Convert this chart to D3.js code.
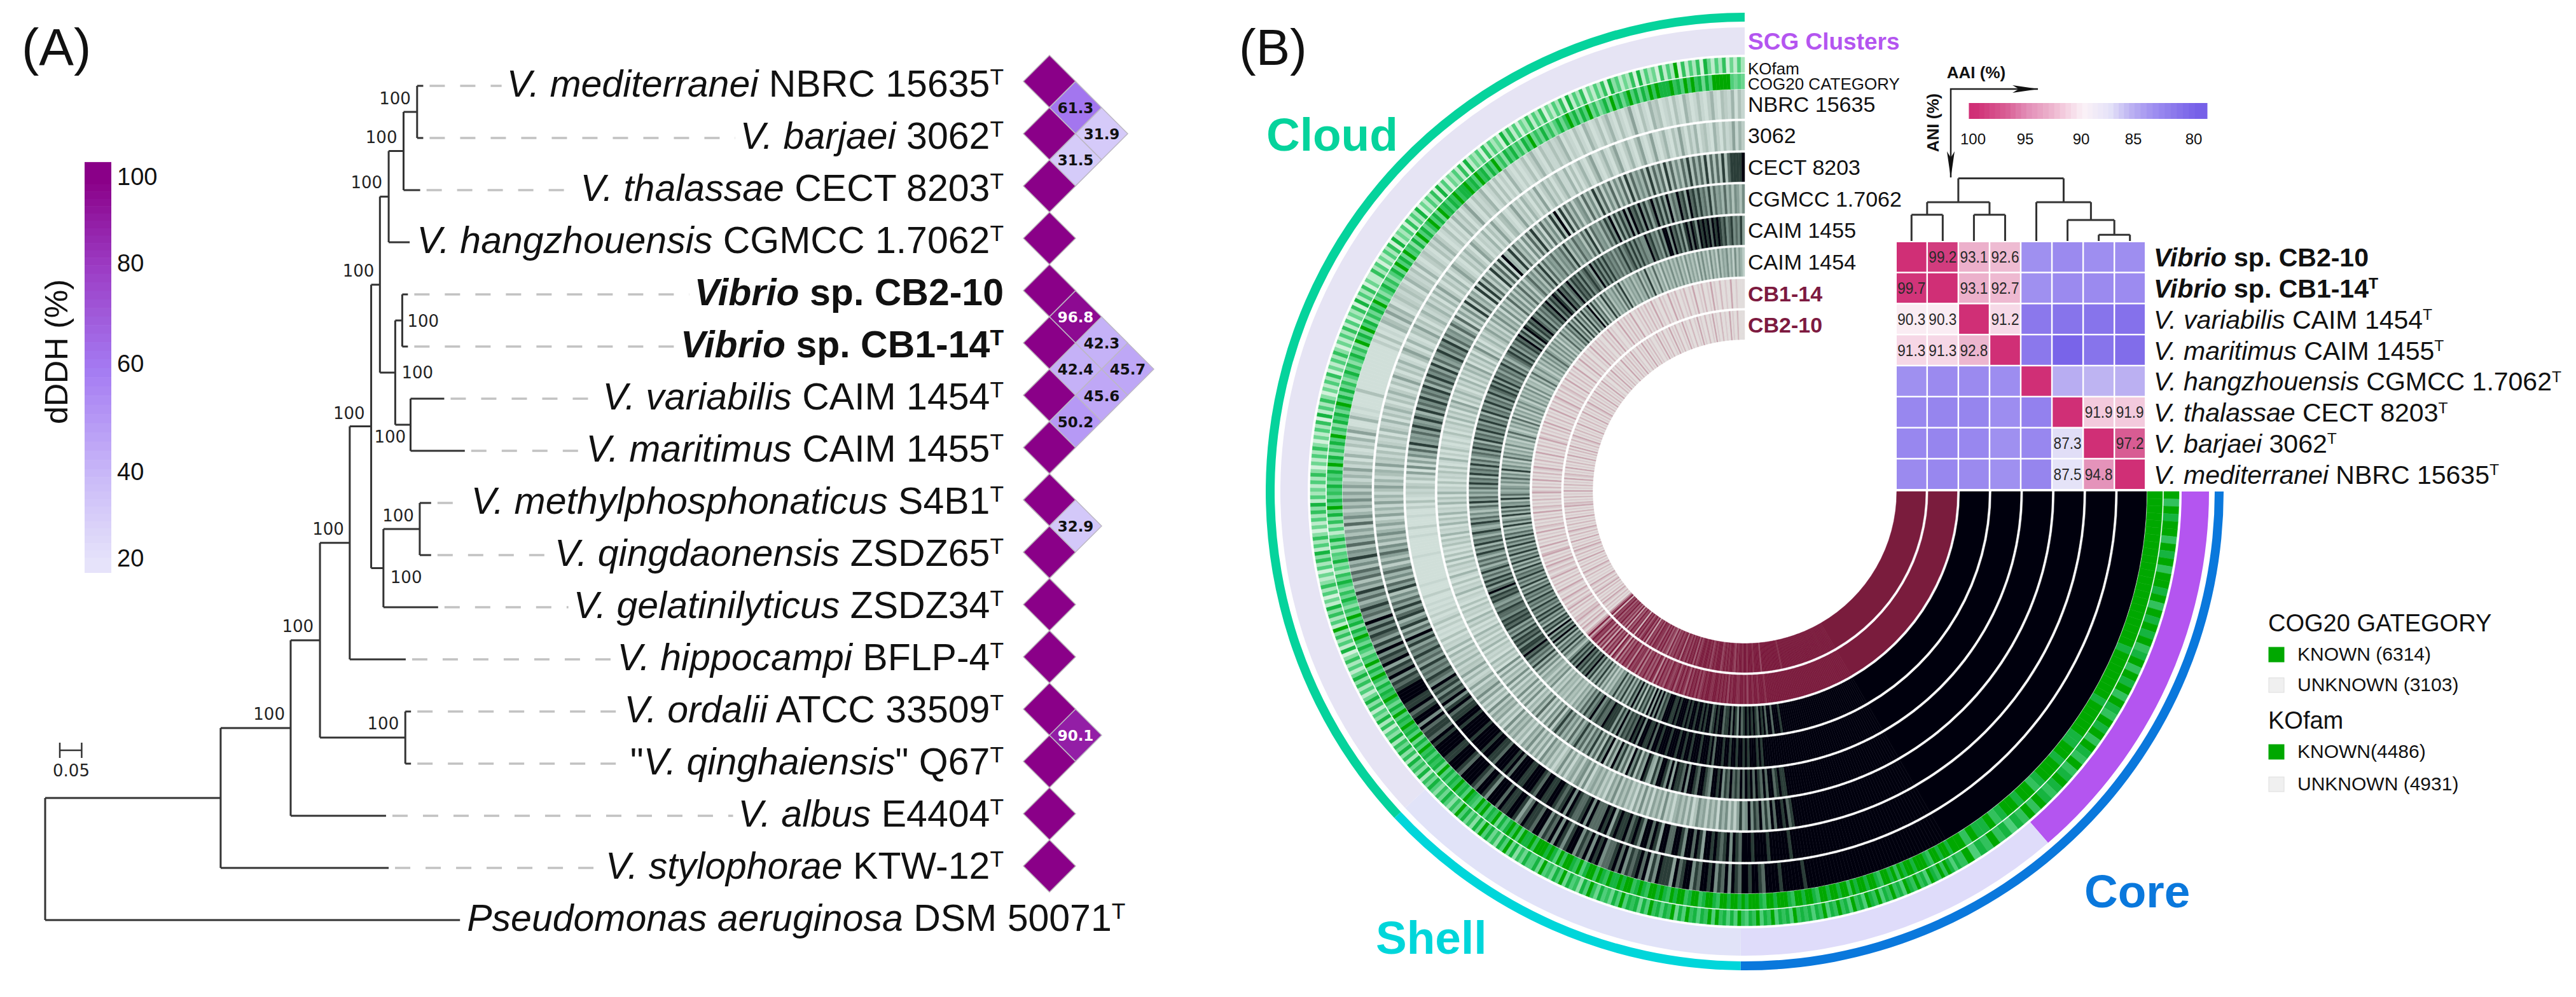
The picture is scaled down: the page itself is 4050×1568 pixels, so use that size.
<!DOCTYPE html>
<html>
<head>
<meta charset="utf-8">
<script src="https://cdn.jsdelivr.net/npm/d3@7"></script>
<style>
  html, body { margin: 0; padding: 0; background: #fff; }
  svg { display: block; }
  text { font-family: "Liberation Sans", Arial, sans-serif; fill: #111; }
  .boot { font-family: "DejaVu Sans", sans-serif; font-size: 26px; fill: #222; }
</style>
</head>
<body>
<svg id="fig" width="4050" height="1568">
  <defs><filter id="soft" x="-5%" y="-5%" width="110%" height="110%"><feGaussianBlur stdDeviation="0.7"/></filter></defs>
</svg>
<script>
// ---------- panel A data ----------
const speciesKeys = ["medi", "barj", "thal", "hang", "cb2", "cb1", "vari", "mari", "meth", "qing", "gela", "hipp", "orda", "qinh", "albu", "styl", "pseu"];
const speciesItalic = ["V. mediterranei", "V. barjaei", "V. thalassae", "V. hangzhouensis", "Vibrio", "Vibrio", "V. variabilis", "V. maritimus", "V. methylphosphonaticus", "V. qingdaonensis", "V. gelatinilyticus", "V. hippocampi", "V. ordalii", "V. qinghaiensis", "V. albus", "V. stylophorae", "Pseudomonas aeruginosa"];
const speciesStrain = ["NBRC 15635", "3062", "CECT 8203", "CGMCC 1.7062", "sp. CB2-10", "sp. CB1-14", "CAIM 1454", "CAIM 1455", "S4B1", "ZSDZ65", "ZSDZ34", "BFLP-4", "ATCC 33509", "Q67", "E4404", "KTW-12", "DSM 50071"];
const boldKeys = ["cb2", "cb1"];
const noTypeMark = ["cb2"];
const quotedKeys = ["qinh"];
const outgroupKey = "pseu";

// id, parent, branch length (substitutions per site)
const branchRows = [
  ["root", "", 0],
  ["n1", "root", .401], ["n2", "n1", .160], ["n3", "n2", .067], ["n4", "n3", .068],
  ["n5", "n4", .049], ["n6", "n5", .020], ["n8", "n6", .020], ["n10", "n8", .034],
  ["n11", "n10", .031], ["medi", "n11", .014], ["barj", "n11", .014], ["thal", "n10", .038],
  ["hang", "n8", .048], ["n9", "n6", .035], ["n12", "n9", .016], ["cb2", "n12", .013],
  ["cb1", "n12", .013], ["n13", "n9", .035], ["vari", "n13", .077], ["mari", "n13", .124],
  ["n7", "n5", .028], ["n14", "n7", .083], ["meth", "n14", .026], ["qing", "n14", .026],
  ["gela", "n7", .125], ["hipp", "n4", .128], ["nOrd", "n3", .195], ["orda", "nOrd", .013],
  ["qinh", "nOrd", .013], ["albu", "n2", .218], ["styl", "n1", .384], ["pseu", "root", .948]
];
// bootstrap labels: node, offset from node, anchor
const bootLabels = [
  ["n11", -10, -12, "end"], ["n10", -10, -13, "end"], ["n8", -10, -13, "end"], ["n6", -9, -13, "end"],
  ["n5", -10, -12, "end"], ["n4", -9, -13, "end"], ["n3", -10, -13, "end"], ["n2", -9, -13, "end"],
  ["nOrd", -10, -13, "end"], ["n14", -9, -12, "end"], ["n12", 8, 10, "start"], ["n9", 10, 9, "start"],
  ["n13", -57, 28, "start"], ["n7", 11, 23, "start"]
];
const bootValue = "100";

const dddhTicks = [100, 80, 60, 40, 20];
const dddhColors = ["#8a0088", "#9c3cc4", "#a47af2", "#c9b9f8", "#e6e3fa"];
// pairwise dDDH: row i, row j, value
const dddhPairs = [
  [0, 1, 61.3], [1, 2, 31.5], [0, 2, 31.9],
  [4, 5, 96.8], [5, 6, 42.4], [4, 6, 42.3], [6, 7, 50.2], [5, 7, 45.6], [4, 7, 45.7],
  [8, 9, 32.9], [12, 13, 90.1]
];

// ---------- panel B data ----------
const heatLabels = ["cb2", "cb1", "vari", "mari", "hang", "thal", "barj", "medi"];
const heatValues = [
  [100, 99.2, 93.1, 92.6, 83.6, 83.2, 83.5, 83.5],
  [99.7, 100, 93.1, 92.7, 83.6, 83.2, 83.2, 83.3],
  [90.3, 90.3, 100, 91.2, 81.8, 81.5, 81.5, 81.3],
  [91.3, 91.3, 92.8, 100, 81.8, 80.3, 81.5, 81.0],
  [83.6, 83.2, 83.2, 83.4, 100, 85.2, 85.6, 85.4],
  [83.0, 82.8, 82.8, 83.4, 82.5, 100, 91.9, 91.9],
  [83.0, 82.8, 83.0, 83.6, 83.0, 87.3, 100, 97.2],
  [83.2, 83.0, 83.2, 83.6, 82.8, 87.5, 94.8, 100]
];
// which cells carry a printed number (row, col)
const heatPrinted = [
  [0, 1], [0, 2], [0, 3], [1, 0], [1, 2], [1, 3], [2, 0], [2, 1], [2, 3], [3, 0], [3, 1], [3, 2],
  [5, 6], [5, 7], [6, 5], [6, 7], [7, 5], [7, 6]
];
const heatStops = [100, 97, 95, 93, 91.5, 90, 87.5, 85.5, 83.5, 80];
const heatStopColors = ["#d02f76", "#d95f95", "#e38fb8", "#ecb2cc", "#f5d3e3", "#fbf2f7", "#e5e3f8", "#bcb2f2", "#9e8ef0", "#7660e8"];
const heatTicks = [100, 95, 90, 85, 80];
// dendrogram over the heatmap: id, parent, height
const dendroRows = [
  ["top", "", 1], ["l", "top", .62], ["r", "top", .62], ["l1", "l", .42], ["l2", "l", .42],
  ["c0", "l1", 0], ["c1", "l1", 0], ["c2", "l2", 0], ["c3", "l2", 0], ["c4", "r", 0], ["r1", "r", .335],
  ["c5", "r1", 0], ["r2", "r1", .10], ["c6", "r2", 0], ["c7", "r2", 0]
];

const ringNames = ["NBRC 15635", "3062", "CECT 8203", "CGMCC 1.7062", "CAIM 1455", "CAIM 1454", "CB1-14", "CB2-10"];
const maroonRings = ["CB1-14", "CB2-10"];
// The figure holds about 9400 clusters; these are eye estimates at a coarser step, one string per 30 degrees from 150 to 360.
const ringNBRC = [
  "999999999999999999999999999999999999999999899999989999789989",
  "978969786989978699879588896859798786979877698969786998689697",
  "869978897589988979996899789999789998899998978879699879889999",
  "878697859786968578686957686475846375736485637463527364253635",
  "253142513041031405200410100003000000000000002030104315240132",
  "132042130410231031420130204130251031240130302041020130241031",
  "131240210310420130241031025103104230120310420131024103214031"];
const ring3062 = [
  "999999999999999999999999999999999999999999999899999989999899",
  "978969878989958979968997799589799689879889859897779698778969",
  "878998899789998899979899978899899998999989988798697868796786",
  "768576867586957486487585746385736475263574625364253152415241",
  "352413415231304213042140314203142031520314103520410325130241",
  "241304152031402531031420530214031520341025130420315024130241",
  "140302410351024103510241035102510241031520314023104203125142"];
const ringCECT = [
  "999999999999999999999999999999999999999999987989979686978696",
  "585252646153525463152535414262535152625142535263514253541626",
  "525415263142536152526351425352614153526141526341521415231413",
  "140412030102031020101002000100000000010000001002000100203012",
  "132031506152647485657586586485768576847586758475685768475637",
  "527152628273518283725183728194382735162738261736283918273625",
  "627362837263726372837464738374728373637483747382737383788889"];
const ringCGMCC = [
  "999999999999999999999999999999999999999999998898799797897989",
  "797879786989967899789969788959689968458957386937486947396837",
  "485747586473647586273615273624162516241516241516031402130413",
  "031402031402130301204120301402130403020313041204130412041304",
  "120302130301402031020130213041304250314203140314250314036140",
  "241352415263516252736263736257463748374657465748364756374827",
  "564758694858695978696857968585957697859786867584756474636536"];
const ring1455 = [
  "999999999999999999999999999999999999999999999999999989899989",
  "899899899899979899989998998998999899989979889969897878696858",
  "889778769768574635243524352416352452637485768797886878685758",
  "787867786756878697586857586475746857486746854685746357485746",
  "475867486758574675867486758675867486758675867868586757685746",
  "786857687968598687976857687968798697867968786867875968686867",
  "675768678686867669786758699697868589798698989798987867867685"];
const ring1454 = [
  "999999999999999999999999999999999999999999899979979897898989",
  "879689798879989879989899899898999898899978696959486838596847",
  "485748563526374857486978687968686357485748596859486847586857",
  "685768576857485758675847485748574857485746384753847485638475",
  "465364746384635274635263426374253637263526364263536263426374",
  "364253636475363636253746375847384738475938472638473546374836",
  "354635473648353735263536353635263535263635263526354635263542"];
const ringCB1 = [
  "999999999999999999999999999999999999999999999999899989989979",
  "899889989798989899889989879798979689798698789687969489686978",
  "595887948796859379296859385948796394201302013120102031020130",
  "101301020103101201302010320103010201030120102010301201020103",
  "102010301020130102010301020103102010203010201030102013010201",
  "201030102010300103010200103010201002010301001030102010300102",
  "010201030100201003010200102001030010200103010020010030010000"];
const ringCB2 = [
  "999999999999999999999999999999999999899999999999979999899989",
  "989989789989898799989879899899879698979789598797869578697968",
  "896978396986979287968395869786978296301020130201020310201301",
  "010201301020103010201302010301020130102010301020103120102010",
  "301020103012010301020103010203010201301020103010201030102013",
  "010201030102010301002010301020100301020103010020103010201001",
  "030102001030102001030100200103010020010301002001003010020000"];
const ringShades = { "NBRC 15635": ringNBRC, "3062": ring3062, "CECT 8203": ringCECT, "CGMCC 1.7062": ringCGMCC, "CAIM 1455": ring1455, "CAIM 1454": ring1454, "CB1-14": ringCB1, "CB2-10": ringCB2 };

// green annotation rings: first string is one shade per degree from 90 to 150
const cogCore = "999999999999999999999989999999899999889989998799899879889799";
const kofCore = "979899798979989798989789798979879897987978987897978687978697";
const cogShades = [
  "899899789998998979899789989989799899899789989978999899789998",
  "989989978998799879989789899789879989889789799869789979689899",
  "979889697986859786979678968797868695878687968596879786968579",
  "786857968596746857968486957468574685736485637485263748596857",
  "685768596847586957486857968585746857468574968596847586957468",
  "574685968596748596857968597868797889786978586957486857486957",
  "585746857968586957468596857968586979888978697978586999996565"];
const kofShades = [
  "868979789687978968797869789687968797869786878796878697869786",
  "796868796978687968597868796858786968576857968476859685769586",
  "685748596847586958475869574685746857384758374857384627384627",
  "485263748526374182637492637482516374251637482637415263748263",
  "526374152637415263718263741526371526374152637261537182637152",
  "273615263718253617263815263718261536271825361726351837261537",
  "263715263718263715263718462537182635172639172637185263715263"];

// outer sectors in degrees clockwise from 12 o'clock
const sectorNames = ["Core", "Shell", "Cloud"];
const sectorEdges = [90, 180.5, 227, 360];
const sectorColors = ["#0a78dc", "#00d6da", "#05d39c"];
const scgEdges = [90, 139.2, 180.5, 227, 360];
const scgColors = ["#b455f0", "#dfdcfa", "#e1e3f8", "#e6e4f4"];

const legendNames = ["COG20 GATEGORY", "KOfam"];
const legendCog = ["KNOWN (6314)", "UNKNOWN (3103)"];
const legendKof = ["KNOWN(4486)", "UNKNOWN (4931)"];

// ---------- helpers ----------
const svg = d3.select("#fig");
const deg = d3.scaleLinear().domain([0, 360]).range([0, 2 * Math.PI]);

function speciesText(sel, key, size) {
  const i = speciesKeys.indexOf(key);
  const bold = boldKeys.includes(key) ? "bold" : "normal";
  sel.attr("font-size", size).attr("font-weight", bold);
  if (quotedKeys.includes(key)) sel.append("tspan").text('"');
  sel.append("tspan").attr("font-style", "italic").text(speciesItalic[i]);
  sel.append("tspan").text((quotedKeys.includes(key) ? '" ' : " ") + speciesStrain[i]);
  if (!noTypeMark.includes(key)) {
    sel.append("tspan").attr("font-size", size * 0.6).attr("dy", -size * 0.33).text("T");
  }
}

// ---------- panel A ----------
const gA = svg.append("g");
gA.append("text").attr("x", 34).attr("y", 102).attr("font-size", 82).text("(A)");

// dDDH colour bar
const dddhColor = d3.scaleLinear().domain(dddhTicks).range(dddhColors).clamp(true);
const dddhY = d3.scaleLinear().domain(dddhTicks).range([278, 414, 572, 742, 878]);
const barBands = d3.range(103.4, 17.6, -1.7);
gA.selectAll("rect.band").data(barBands).join("rect")
  .attr("x", 133).attr("width", 42)
  .attr("y", d => dddhY(d)).attr("height", d => dddhY(d - 1.7) - dddhY(d) + 0.6)
  .attr("fill", d => dddhColor(d));
gA.selectAll("text.tick").data(dddhTicks).join("text")
  .attr("x", 184).attr("y", d => dddhY(d) + 13)
  .attr("font-size", 38).text(d => d);
gA.append("text").attr("transform", "translate(106,553) rotate(-90)")
  .attr("text-anchor", "middle").attr("font-size", 50).text("dDDH (%)");

// tree
const treeX = d3.scaleLinear().domain([0, 1]).range([71, 759]);
const treeY = d3.scalePoint().domain(speciesKeys).range([135, 1447]);
const tree = d3.stratify().id(d => d[0]).parentId(d => d[1])(branchRows);
tree.eachBefore(n => { n.dist = (n.parent ? n.parent.dist : 0) + n.data[2]; n.px = treeX(n.dist); });
tree.eachAfter(n => {
  n.py = n.children ? (n.children[0].py + n.children[n.children.length - 1].py) / 2 : treeY(n.id);
});
const nodeById = new Map(tree.descendants().map(n => [n.id, n]));
const branchPath = d3.path();
tree.descendants().forEach(n => {
  if (n.parent) { branchPath.moveTo(n.parent.px, n.py); branchPath.lineTo(n.px, n.py); }
  if (n.children) { branchPath.moveTo(n.px, n.children[0].py); branchPath.lineTo(n.px, n.children[n.children.length - 1].py); }
});

// tip labels right aligned, dashes run up to them; the outgroup starts at its branch end
const labelRight = 1578;
const tipG = gA.append("g");
tree.leaves().forEach(n => {
  const out = n.id === outgroupKey;
  const t = tipG.append("text").attr("x", out ? n.px + 11 : labelRight).attr("y", n.py + 17).attr("text-anchor", out ? "start" : "end");
  speciesText(t, n.id, 59);
  if (out) return;
  const left = labelRight - t.node().getComputedTextLength();
  if (left - n.px > 20) {
    gA.append("line").attr("x1", n.px + 10).attr("x2", left - 8).attr("y1", n.py).attr("y2", n.py)
      .attr("stroke", "#c2c2c2").attr("stroke-width", 3.5).attr("stroke-dasharray", "24 24");
  }
});
gA.append("path").attr("d", branchPath.toString()).attr("fill", "none").attr("stroke", "#333").attr("stroke-width", 3);
gA.selectAll("text.boot").data(bootLabels).join("text").attr("class", "boot")
  .attr("x", d => nodeById.get(d[0]).px + d[1]).attr("y", d => nodeById.get(d[0]).py + d[2])
  .attr("text-anchor", d => d[3]).text(bootValue);

// scale bar
const scaleBarUnits = [0, 0.05];
const sbX = d3.scaleLinear().domain([0, .05]).range([94, 128.4]);
const sbG = gA.append("g").attr("stroke", "#333").attr("stroke-width", 2.5);
sbG.append("line").attr("x1", sbX(0)).attr("x2", sbX(.05)).attr("y1", 1180).attr("y2", 1180);
sbG.selectAll("line.cap").data(scaleBarUnits).join("line").attr("class", "cap")
  .attr("x1", d => sbX(d)).attr("x2", d => sbX(d)).attr("y1", 1168).attr("y2", 1192);
gA.append("text").attr("class", "boot").attr("x", 112).attr("y", 1221).attr("text-anchor", "middle").text("0.05");

// dDDH diamonds
const diaX = 1650, diaStep = 41;
const diaY = d3.scalePoint().domain(d3.range(16)).range([128, 1362]);
const diamond = (x, y, r) => `M${x - r},${y}L${x},${y - r}L${x + r},${y}L${x},${y + r}Z`;
const gD = gA.append("g");
gD.selectAll("path.diag").data(d3.range(16)).join("path")
  .attr("d", d => diamond(diaX, diaY(d), diaStep)).attr("fill", dddhColor(100))
  .attr("stroke", "#b9b0b9").attr("stroke-width", 1.5);
gD.selectAll("path.pair").data(dddhPairs).join("path")
  .attr("d", d => diamond(diaX + (d[1] - d[0]) * diaStep, (diaY(d[0]) + diaY(d[1])) / 2, diaStep))
  .attr("fill", d => dddhColor(d[2])).attr("stroke", "#bdb8c4").attr("stroke-width", 1.5);
gD.selectAll("text").data(dddhPairs).join("text")
  .attr("x", d => diaX + (d[1] - d[0]) * diaStep).attr("y", d => (diaY(d[0]) + diaY(d[1])) / 2 + 9)
  .attr("text-anchor", "middle").style("font-family", '"DejaVu Sans", sans-serif')
  .attr("font-weight", "bold").attr("font-size", 23)
  .style("fill", d => d[2] > 80 ? "#fff" : "#111").text(d => d[2].toFixed(1));

// ---------- panel B rings ----------
const gB = svg.append("g");
gB.append("text").attr("x", 1948).attr("y", 102).attr("font-size", 80).text("(B)");

const cx = 2743, cy = 773;
const gR = gB.append("g").attr("transform", `translate(${cx},${cy})`);
const arc = d3.arc();
const ringBand = d3.scaleBand().domain(ringNames.slice().reverse()).range([239, 632]).paddingInner(0.085);
const greenBand = d3.scaleBand().domain(["COG", "KOfam"]).range([633, 683]).paddingInner(0.08);
const grayShade = d3.scaleLinear().domain([0, 2, 4, 6, 7, 8, 9]).range(["#d0dfd9", "#bccdc6", "#9fb4ac", "#768d85", "#566b64", "#2c3e39", "#03060c"]);
const maroonShade = d3.scaleLinear().domain([0, 3, 9]).range(["#e1dcdb", "#c7a3ad", "#7a1b3c"]);
const greenShade = d3.scaleLinear().domain([0, 3, 6, 8, 9]).range(["#e6f6ea", "#a8e6bb", "#4fce7a", "#14b440", "#00a800"]);

function addStripes(rows, startDeg, spanDeg, r0, r1, shade, out) {
  rows.forEach((row, k) => {
    const a0 = startDeg + k * spanDeg;
    Array.from(row).forEach((c, i) => {
      out.push({
        d: arc({
          innerRadius: r0, outerRadius: r1,
          startAngle: deg(a0 + spanDeg * i / row.length),
          endAngle: deg(a0 + spanDeg * (i + 1) / row.length)
        }),
        fill: shade(+c)
      });
    });
  });
}
const stripes = [];
ringNames.forEach(name => {
  const r0 = ringBand(name), r1 = r0 + ringBand.bandwidth();
  const shade = maroonRings.includes(name) ? maroonShade : grayShade;
  // solid core sector up to 150 degrees
  stripes.push({ d: arc({ innerRadius: r0, outerRadius: r1, startAngle: deg(90), endAngle: deg(150) }), fill: shade(9) });
  addStripes(ringShades[name], 150, 30, r0, r1, shade, stripes);
});
[["COG", cogCore, cogShades], ["KOfam", kofCore, kofShades]].forEach(g => {
  const r0 = greenBand(g[0]), r1 = r0 + greenBand.bandwidth();
  addStripes([g[1]], 90, 60, r0, r1, greenShade, stripes);
  addStripes(g[2], 150, 30, r0, r1, greenShade, stripes);
});
gR.append("g").attr("filter", "url(#soft)").selectAll("path").data(stripes).join("path")
  .attr("d", d => d.d).attr("fill", d => d.fill).attr("stroke", d => d.fill).attr("stroke-width", 0.5);

// SCG ring and the outer sector ring
gR.selectAll("path.scg").data(scgColors).join("path")
  .attr("d", (d, i) => arc({ innerRadius: 687, outerRadius: 730, startAngle: deg(scgEdges[i]), endAngle: deg(scgEdges[i + 1]) }))
  .attr("fill", d => d);
gR.selectAll("path.sector").data(sectorColors).join("path")
  .attr("d", (d, i) => arc({ innerRadius: 739, outerRadius: 753, startAngle: deg(sectorEdges[i]), endAngle: deg(sectorEdges[i + 1]) }))
  .attr("fill", d => d);

// sector names
const sectorLabelX = [3277, 2163, 1991];
const sectorLabelY = [1427, 1500, 237];
gB.selectAll("text.sector").data(sectorNames).join("text")
  .attr("x", (d, i) => sectorLabelX[i]).attr("y", (d, i) => sectorLabelY[i])
  .attr("font-size", 73).attr("font-weight", "bold")
  .style("fill", (d, i) => sectorColors[i]).text(d => d);

// ring names at the open end
const gL = gB.append("g");
gL.selectAll("text").data(ringNames).join("text")
  .attr("x", 2748).attr("y", d => cy - ringBand(d) - ringBand.bandwidth() / 2 + 12)
  .attr("font-size", 34).attr("font-weight", d => maroonRings.includes(d) ? "bold" : "normal")
  .style("fill", d => maroonRings.includes(d) ? "#7d1a40" : "#111").text(d => d);
gL.append("text").attr("x", 2748).attr("y", 78).attr("font-size", 37).attr("font-weight", "bold").style("fill", "#b455f0").text("SCG Clusters");
gL.append("text").attr("x", 2748).attr("y", 117).attr("font-size", 26).text("KOfam");
gL.append("text").attr("x", 2748).attr("y", 141).attr("font-size", 26).text("COG20 CATEGORY");

// ---------- heatmap ----------
const heatColor = d3.scaleLinear().domain(heatStops).range(heatStopColors).clamp(true);
const heatX = d3.scaleBand().domain(d3.range(8)).range([2982, 3372]).paddingInner(0.05);
const heatY = d3.scaleBand().domain(d3.range(8)).range([381, 769]).paddingInner(0.05);
const gH = gB.append("g");
heatValues.forEach((row, r) => {
  gH.append("g").selectAll("rect").data(row).join("rect")
    .attr("x", (d, c) => heatX(c)).attr("y", heatY(r))
    .attr("width", heatX.bandwidth()).attr("height", heatY.bandwidth())
    .attr("fill", d => heatColor(d));
});
gH.append("g").selectAll("text").data(heatPrinted).join("text")
  .attr("x", d => heatX(d[1]) + heatX.bandwidth() / 2).attr("y", d => heatY(d[0]) + heatY.bandwidth() / 2 + 9)
  .attr("text-anchor", "middle").attr("font-size", 25).attr("textLength", 44).attr("lengthAdjust", "spacingAndGlyphs")
  .style("fill", "#2a2a2a").text(d => heatValues[d[0]][d[1]].toFixed(1));
heatLabels.forEach((key, r) => {
  const t = gH.append("text").attr("x", 3386).attr("y", heatY(r) + heatY.bandwidth() / 2 + 15);
  speciesText(t, key, 41);
});

// dendrogram
const dendro = d3.stratify().id(d => d[0]).parentId(d => d[1])(dendroRows);
const dendroY = d3.scaleLinear().domain([0, 1]).range([379, 280.5]);
dendro.eachAfter(n => {
  n.px = n.children ? (n.children[0].px + n.children[n.children.length - 1].px) / 2 : heatX(+n.id.slice(1)) + heatX.bandwidth() / 2;
});
const dendroPath = d3.path();
dendro.descendants().forEach(n => {
  if (n.parent) { dendroPath.moveTo(n.px, dendroY(n.data[2])); dendroPath.lineTo(n.px, dendroY(n.parent.data[2])); }
  if (n.children) { dendroPath.moveTo(n.children[0].px, dendroY(n.data[2])); dendroPath.lineTo(n.children[n.children.length - 1].px, dendroY(n.data[2])); }
});
gH.append("path").attr("d", dendroPath.toString()).attr("fill", "none").attr("stroke", "#333").attr("stroke-width", 3);

// ANI / AAI arrows
const gA2 = gB.append("g");
gA2.append("path").attr("d", "M3204,140H3067V279").attr("fill", "none").attr("stroke", "#222").attr("stroke-width", 2.5);
gA2.append("path").attr("d", "M3205,140L3164,134L3174,140L3164,146Z").attr("fill", "#111");
gA2.append("path").attr("d", "M3067,280L3061,238L3067,248L3073,238Z").attr("fill", "#111");
gA2.append("text").attr("x", 3107).attr("y", 123).attr("text-anchor", "middle").attr("font-size", 26).attr("font-weight", "bold").text("AAI (%)");
gA2.append("text").attr("transform", "translate(3048,193) rotate(-90)").attr("text-anchor", "middle").attr("font-size", 26).attr("font-weight", "bold").text("ANI (%)");

// heat colour key
const keyX = d3.scaleLinear().domain(heatTicks).range([3102, 3184, 3272, 3354, 3449]);
const keyBands = d3.range(100.4, 79.3, -0.5);
gA2.selectAll("rect").data(keyBands).join("rect")
  .attr("x", d => keyX(d)).attr("width", d => keyX(d - 0.5) - keyX(d) + 0.6)
  .attr("y", 162).attr("height", 25).attr("fill", d => heatColor(d));
gA2.selectAll("text.key").data(heatTicks).join("text").attr("class", "key")
  .attr("x", d => keyX(d)).attr("y", 227).attr("text-anchor", "middle").attr("font-size", 24).text(d => d);

// ---------- legend ----------
const gK = gB.append("g");
const legendTitleY = [993, 1146];
gK.selectAll("text.title").data(legendNames).join("text").attr("class", "title")
  .attr("x", 3566).attr("y", (d, i) => legendTitleY[i]).attr("font-size", 38).text(d => d);
const legendRows = legendCog.concat(legendKof);
const legendRowY = [1039, 1087, 1192, 1243];
const legendFill = ["#00a800", "#f0f0f0", "#00a800", "#f0f0f0"];
const legendEdge = ["#00a800", "#dedede", "#00a800", "#dedede"];
gK.selectAll("rect").data(legendRows).join("rect")
  .attr("x", 3567).attr("width", 24).attr("height", 23)
  .attr("y", (d, i) => legendRowY[i] - 21)
  .attr("fill", (d, i) => legendFill[i]).attr("stroke", (d, i) => legendEdge[i]);
gK.selectAll("text.row").data(legendRows).join("text").attr("class", "row")
  .attr("x", 3612).attr("y", (d, i) => legendRowY[i]).attr("font-size", 30).text(d => d);
</script>
</body>
</html>
